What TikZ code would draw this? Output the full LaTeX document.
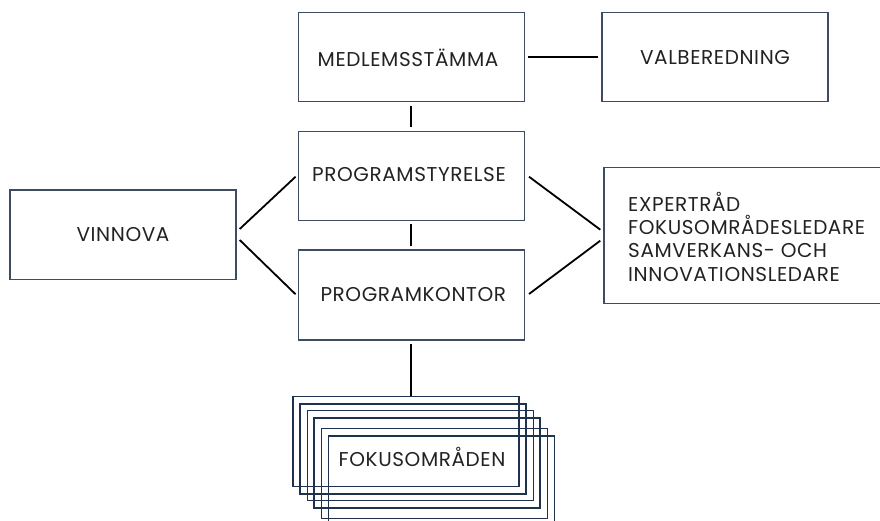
\documentclass[tikz,border=0pt]{standalone}
\usepackage{fontspec}
\setmainfont{Poppins}[LetterSpace=3]
\usetikzlibrary{calc}
\definecolor{boxline}{RGB}{62,76,96}
\definecolor{stackline}{RGB}{30,50,78}
\definecolor{txt}{RGB}{34,34,34}
\tikzset{
  box/.style={draw=boxline, line width=1.4pt, minimum width=226pt, minimum height=89pt, inner sep=0pt},
  stackbox/.style={draw=stackline, line width=1.4pt, minimum width=226pt, minimum height=90pt, inner sep=0pt},
  conn/.style={draw=black, line width=1.8pt},
  lbl/.style={text=txt, inner sep=0pt, font=\fontsize{20}{23}\selectfont},
}
\begin{document}
\begin{tikzpicture}[x=1pt,y=-1pt]
\useasboundingbox (0,0) rectangle (880,521);
\clip (0,0) rectangle (880,521);
% main boxes
\node[box] (med) at (411.3,57.2) {};
\node[lbl] (medt) at (408,58) {MEDLEMSSTÄMMA};
\node[box] (val) at (715,57.2) {};
\node[lbl] (valt) at (715,57.5) {VALBEREDNING};
\node[box] (styr) at (411.3,176.2) {};
\node[lbl] (styrt) at (409,174.5) {PROGRAMSTYRELSE};
\node[box, minimum height=90pt] (kont) at (411.3,295) {};
\node[lbl] (kontt) at (413.3,294.5) {PROGRAMKONTOR};
\node[box] (vin) at (123,234.7) {};
\node[lbl] (vint) at (123,235) {VINNOVA};
\node[box, minimum width=290pt, minimum height=136pt, anchor=north west] (exp) at (603.3,166.7) {};
\node[lbl, anchor=west, align=left, font=\fontsize{20}{23.3}\selectfont] (expt) at (628,236.5)
  {EXPERTRÅD\\FOKUSOMRÅDESLEDARE\\SAMVERKANS- OCH\\INNOVATIONSLEDARE};
% stacked focus boxes
\node[stackbox, anchor=north west] (fok1) at (292.3,396) {};
\node[stackbox, anchor=north west] (fok2) at (299.3,403.3) {};
\node[stackbox, anchor=north west] (fok3) at (306.7,410) {};
\node[stackbox, anchor=north west] (fok4) at (313.3,417.3) {};
\node[stackbox, anchor=north west] (fok5) at (320.7,427.7) {};
\node[stackbox, anchor=north west] (fok6) at (327.7,435.3) {};
\node[lbl] (fokt) at (422,457) {FOKUSOMRÅDEN};
% connectors
\draw[conn, shorten <=3.5pt, shorten >=3.5pt] (med.south) -- (styr.north);
\draw[conn, shorten <=3pt, shorten >=3pt] (styr.south) -- (kont.north);
\draw[conn, shorten <=3pt] (kont.south) -- (kont.south |- fok1.north);
\draw[conn, shorten <=3pt, shorten >=3pt] (med.east) -- (val.west);
\draw[conn] ($(vin.east)+(3,-5.7)$) -- ($(styr.west)+(-2,0.5)$);
\draw[conn] ($(vin.east)+(3,5.3)$) -- ($(kont.west)+(-2,-0.7)$);
\draw[conn] ($(styr.east)+(4,0.5)$) -- ($(exp.west)+(-3,-5.7)$);
\draw[conn] ($(kont.east)+(4,-1)$) -- ($(exp.west)+(-3,5.3)$);
\end{tikzpicture}
\end{document}
